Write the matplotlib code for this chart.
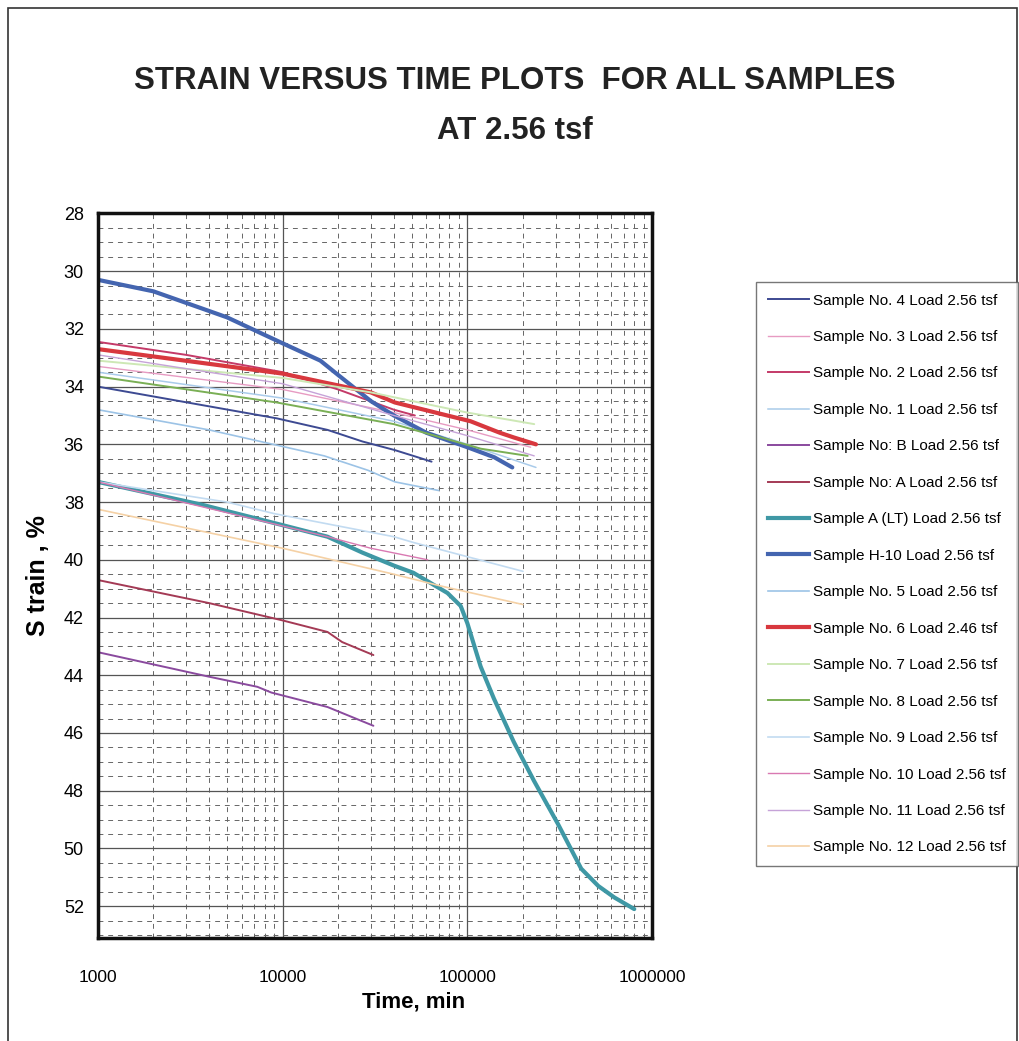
import numpy as np
import matplotlib.pyplot as plt
from matplotlib.lines import Line2D
from matplotlib.patches import Rectangle
from matplotlib.ticker import FixedLocator, NullFormatter

# Strain (%) against elapsed time (min), one pair of arrays per sample.
s4_time = [1000, 9300, 17500, 27000, 40500, 51000, 64000]
s4_strain = [34.0, 35.1, 35.5, 35.9, 36.2, 36.4, 36.6]

s3_time = [1000, 10000, 40000, 100000, 220000]
s3_strain = [33.3, 34.1, 34.9, 35.5, 36.1]

s2_time = [1000, 3000, 10000, 20000, 40000, 52000]
s2_strain = [32.45, 32.9, 33.5, 34.1, 34.8, 35.0]

s1_time = [1000, 10000, 40000, 100000, 235000]
s1_strain = [33.5, 34.4, 35.2, 36.0, 36.8]

sB_time = [1000, 4000, 7300, 8700, 17500, 31000]
sB_strain = [43.2, 44.05, 44.4, 44.6, 45.1, 45.75]

sA_time = [1000, 4000, 10000, 17500, 21000, 31000]
sA_strain = [40.7, 41.5, 42.1, 42.5, 42.85, 43.3]

sALT_time = [1000, 3700, 10000, 17500, 27000, 40000, 51000, 78000, 92000, 100000,
             118000, 139000, 178000, 229000, 309000, 413000, 511000, 625000, 800000]
sALT_strain = [37.3, 38.1, 38.8, 39.2, 39.75, 40.2, 40.45, 41.15, 41.6, 42.2,
               43.7, 44.8, 46.3, 47.65, 49.15, 50.7, 51.3, 51.7, 52.1]

sH10_time = [1000, 2000, 5000, 10000, 16000, 20000, 30000, 40000, 60000, 100000, 140000, 175000]
sH10_strain = [30.3, 30.7, 31.6, 32.5, 33.1, 33.6, 34.5, 35.0, 35.6, 36.1, 36.45, 36.8]

s5_time = [1000, 4000, 16800, 29000, 40500, 70000]
s5_strain = [34.8, 35.5, 36.4, 36.9, 37.3, 37.6]

s6_time = [1000, 10000, 30000, 40500, 104000, 150000, 178000, 235000]
s6_strain = [32.7, 33.55, 34.2, 34.55, 35.2, 35.6, 35.76, 36.0]

s7_time = [1000, 10000, 30000, 100000, 230000]
s7_strain = [33.1, 33.7, 34.2, 34.9, 35.3]

s8_time = [1000, 9300, 40000, 118000, 212000]
s8_strain = [33.65, 34.55, 35.3, 36.15, 36.4]

s9_time = [1000, 5000, 9000, 40000, 51000, 200000]
s9_strain = [37.3, 38.0, 38.4, 39.2, 39.4, 40.4]

s10_time = [1000, 17500, 30000, 61000]
s10_strain = [37.3, 39.2, 39.6, 40.0]

s11_time = [1000, 10000, 40000, 100000, 230000]
s11_strain = [32.9, 33.9, 35.0, 35.7, 36.4]

s12_time = [1000, 10000, 40000, 71000, 200000]
s12_strain = [38.25, 39.6, 40.5, 40.9, 41.55]

labels = [
    "Sample No. 4 Load 2.56 tsf", "Sample No. 3 Load 2.56 tsf",
    "Sample No. 2 Load 2.56 tsf", "Sample No. 1 Load 2.56 tsf",
    "Sample No: B Load 2.56 tsf", "Sample No: A Load 2.56 tsf",
    "Sample A (LT) Load 2.56 tsf", "Sample H-10 Load 2.56 tsf",
    "Sample No. 5 Load 2.56 tsf", "Sample No. 6 Load 2.46 tsf",
    "Sample No. 7 Load 2.56 tsf", "Sample No. 8 Load 2.56 tsf",
    "Sample No. 9 Load 2.56 tsf", "Sample No. 10 Load 2.56 tsf",
    "Sample No. 11 Load 2.56 tsf", "Sample No. 12 Load 2.56 tsf",
]

x_ticks = [1000, 10000, 100000, 1000000]
y_ticks = [28, 30, 32, 34, 36, 38, 40, 42, 44, 46, 48, 50, 52]

FONT = ["Liberation Sans Narrow", "Liberation Sans", "DejaVu Sans"]


def main():
    plt.rcParams["font.family"] = FONT

    series = [
        (s4_time, s4_strain, "#3d4a92", 1.4),
        (s3_time, s3_strain, "#e79bc2", 1.0),
        (s2_time, s2_strain, "#c43a68", 1.4),
        (s1_time, s1_strain, "#a9cbea", 1.1),
        (sB_time, sB_strain, "#8a4a9e", 1.4),
        (sA_time, sA_strain, "#a43a55", 1.4),
        (sALT_time, sALT_strain, "#3f98a5", 3.0),
        (sH10_time, sH10_strain, "#4465b0", 3.0),
        (s5_time, s5_strain, "#9cc3e6", 1.2),
        (s6_time, s6_strain, "#d8383e", 3.0),
        (s7_time, s7_strain, "#cde8b5", 1.4),
        (s8_time, s8_strain, "#7aaf55", 1.4),
        (s9_time, s9_strain, "#c2dbf1", 1.2),
        (s10_time, s10_strain, "#d979b2", 1.0),
        (s11_time, s11_strain, "#c6a3d8", 1.0),
        (s12_time, s12_strain, "#f5d1a5", 1.2),
    ]

    fig = plt.figure(figsize=(10.19, 10.41), dpi=100)
    # thin frame round the whole sheet
    fig.patches.append(Rectangle((0.008, -0.02), 0.99, 1.012, transform=fig.transFigure,
                                 fill=False, edgecolor="#333333", linewidth=1.2))

    ax = fig.add_axes([0.096, 0.099, 0.544, 0.696])
    ax.set_xscale("log")
    ax.set_xlim(1000, 1000000)
    ax.set_ylim(53.1, 28)

    # dashed minor grid, solid major grid
    minor_x = [m * 10 ** e for e in (3, 4, 5) for m in range(2, 10)]
    ax.xaxis.set_minor_locator(FixedLocator(minor_x))
    ax.xaxis.set_minor_formatter(NullFormatter())
    ax.yaxis.set_minor_locator(FixedLocator(np.arange(28.5, 53.1, 0.5)))
    ax.grid(which="minor", color="#666666", linestyle=(0, (5, 5)), linewidth=0.7)
    ax.grid(which="major", color="#555555", linestyle="-", linewidth=0.9)
    ax.tick_params(which="both", length=0)

    ax.set_xticks(x_ticks)
    ax.set_xticklabels([str(t) for t in x_ticks])
    ax.set_yticks(y_ticks)
    ax.set_yticklabels([str(v) for v in y_ticks])
    ax.tick_params(axis="x", labelsize=12.5, pad=23)
    ax.tick_params(axis="y", labelsize=13, pad=10)

    for sp in ax.spines.values():
        sp.set_linewidth(2.5)
        sp.set_color("#111111")

    handles = []
    for (t, s, color, lw), lab in zip(series, labels):
        ax.plot(t, s, color=color, linewidth=lw, solid_capstyle="round")
        handles.append(Line2D([], [], color=color, linewidth=lw, label=lab))

    ax.set_xlabel("Time, min", fontsize=16, fontweight="bold")
    ax.xaxis.set_label_coords(0.57, -0.074)
    ax.set_ylabel("S train , %", fontsize=18, fontweight="bold", labelpad=10)

    fig.text(0.505, 0.922, "STRAIN VERSUS TIME PLOTS  FOR ALL SAMPLES",
             ha="center", va="center", fontsize=22.5, fontweight="bold", color="#222222")
    fig.text(0.505, 0.874, "AT 2.56 tsf",
             ha="center", va="center", fontsize=22.5, fontweight="bold", color="#222222")

    leg = fig.legend(handles=handles, loc="upper left", bbox_to_anchor=(0.742, 0.729),
                     fontsize=11, frameon=True, fancybox=False, edgecolor="#555555",
                     handlelength=2.7, handletextpad=0.3, labelspacing=1.47,
                     borderpad=0.75, borderaxespad=0)
    leg.get_frame().set_linewidth(1.0)

    fig.savefig("out.png", dpi=100)


if __name__ == "__main__":
    main()
